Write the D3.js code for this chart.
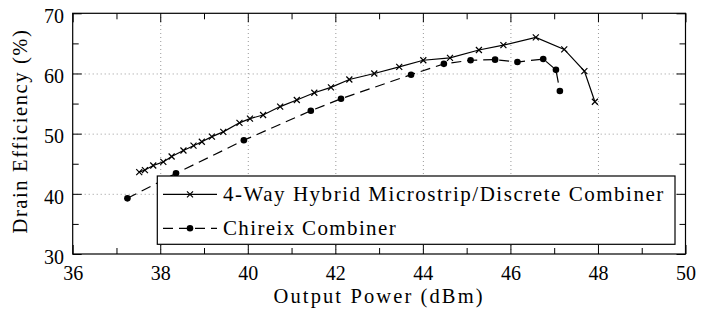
<!DOCTYPE html>
<html>
<head>
<meta charset="utf-8">
<script src="https://cdn.jsdelivr.net/npm/d3@7"></script>
<style>
  body { margin: 0; background: #fff; }
  svg { display: block; }
  text { font-family: "Liberation Serif", "Liberation Sans", serif; fill: #000; }
  .grid line { stroke: #999; stroke-dasharray: 1 3; }
  .grid path { display: none; }
</style>
</head>
<body>
<svg width="710" height="312"></svg>
<script>
// Output power (dBm) and drain efficiency (%)
var hybridX = [37.52, 37.65, 37.84, 38.07, 38.26, 38.53, 38.76, 38.95, 39.18, 39.44, 39.81, 40.05,
               40.35, 40.74, 41.12, 41.52, 41.9, 42.32, 42.89, 43.46, 44.01, 44.62, 45.28, 45.84,
               46.58, 47.23, 47.69, 47.93];
var hybridY = [43.6, 43.95, 44.7, 45.3, 46.2, 47.2, 48.0, 48.65, 49.5, 50.3, 51.8, 52.5,
               53.1, 54.5, 55.6, 56.8, 57.7, 59.0, 60.0, 61.1, 62.2, 62.6, 63.9, 64.7,
               66.0, 64.0, 60.4, 55.3];
var chireixX = [37.25, 38.36, 39.91, 41.44, 42.13, 43.73, 44.48, 45.09, 45.65, 46.16, 46.75, 47.04, 47.13];
var chireixY = [39.25, 43.4, 48.9, 53.8, 55.8, 59.8, 61.6, 62.2, 62.3, 61.9, 62.4, 60.6, 57.1];

var xMajor = [36, 38, 40, 42, 44, 46, 48, 50];
var xMinor = [37, 39, 41, 43, 45, 47, 49];
var yMajor = [30, 40, 50, 60, 70];
var yMinor = [35, 45, 55, 65];

var legendNames = ["4-Way Hybrid Microstrip/Discrete Combiner", "Chireix Combiner"];

window.onload = main;

// spread the letters a little so the text spans about the same width as in the figure
function fitWidth(sel, width) {
    var n = sel.node();
    var w = n.getComputedTextLength();
    var chars = sel.text().length;
    sel.attr("letter-spacing", ((width - w) / chars).toFixed(2));
}

function main() {
    var svg = d3.select("svg");
    var left = 72.7, right = 685.5, top = 13.3, bottom = 254;

    var x = d3.scaleLinear().domain([36, 50]).range([left, right]);
    var y = d3.scaleLinear().domain([30, 70]).range([bottom, top]);

    // grid
    svg.append("g").attr("class", "grid")
        .attr("transform", "translate(0," + bottom + ")")
        .call(d3.axisBottom(x).tickValues(xMajor.slice(1, -1)).tickSize(-(bottom - top)).tickFormat(""));
    svg.append("g").attr("class", "grid")
        .attr("transform", "translate(" + left + ",0)")
        .call(d3.axisLeft(y).tickValues(yMajor.slice(1, -1)).tickSize(-(right - left)).tickFormat(""));

    // ticks pointing inward on all four sides
    function ticks(g) {
        g.selectAll("path").remove();
        g.attr("font-family", null);
        g.selectAll("line").attr("stroke", "#000").attr("stroke-width", 1);
    }
    var xa = svg.append("g").attr("transform", "translate(0," + bottom + ")")
        .call(d3.axisBottom(x).tickValues(xMajor).tickSize(-9).tickFormat(d3.format("d")))
        .call(ticks);
    xa.selectAll("text").attr("font-size", 20).attr("y", 26).attr("dy", null);
    svg.append("g").attr("transform", "translate(0," + bottom + ")")
        .call(d3.axisBottom(x).tickValues(xMinor).tickSize(-6).tickFormat("")).call(ticks);
    svg.append("g").attr("transform", "translate(0," + top + ")")
        .call(d3.axisTop(x).tickValues(xMajor).tickSize(-9).tickFormat("")).call(ticks);
    svg.append("g").attr("transform", "translate(0," + top + ")")
        .call(d3.axisTop(x).tickValues(xMinor).tickSize(-6).tickFormat("")).call(ticks);

    var ya = svg.append("g").attr("transform", "translate(" + left + ",0)")
        .call(d3.axisLeft(y).tickValues(yMajor).tickSize(-9).tickFormat(d3.format("d")))
        .call(ticks);
    ya.selectAll("text").attr("font-size", 20).attr("x", -8.7).attr("dy", null).attr("y", 9.2);
    svg.append("g").attr("transform", "translate(" + left + ",0)")
        .call(d3.axisLeft(y).tickValues(yMinor).tickSize(-6).tickFormat("")).call(ticks);
    svg.append("g").attr("transform", "translate(" + right + ",0)")
        .call(d3.axisRight(y).tickValues(yMajor).tickSize(-9).tickFormat("")).call(ticks);
    svg.append("g").attr("transform", "translate(" + right + ",0)")
        .call(d3.axisRight(y).tickValues(yMinor).tickSize(-6).tickFormat("")).call(ticks);

    // frame
    svg.append("rect")
        .attr("x", left).attr("y", top)
        .attr("width", right - left).attr("height", bottom - top)
        .attr("fill", "none").attr("stroke", "#000").attr("stroke-width", 1.2);

    var line = d3.line().x(d => x(d[0])).y(d => y(d[1]));
    var hybrid = d3.zip(hybridX, hybridY);
    var chireix = d3.zip(chireixX, chireixY);

    svg.append("path").datum(hybrid).attr("d", line)
        .attr("fill", "none").attr("stroke", "#000").attr("stroke-width", 1.2);
    svg.append("path").datum(chireix).attr("d", line)
        .attr("fill", "none").attr("stroke", "#000").attr("stroke-width", 1.2)
        .attr("stroke-dasharray", "10 6");

    function cross(g, cx, cy) {
        g.append("path")
            .attr("d", "M" + (cx - 3) + "," + (cy - 3) + "L" + (cx + 3) + "," + (cy + 3) +
                       "M" + (cx - 3) + "," + (cy + 3) + "L" + (cx + 3) + "," + (cy - 3))
            .attr("stroke", "#000").attr("stroke-width", 1.2);
    }
    var marks = svg.append("g");
    hybrid.forEach(d => cross(marks, x(d[0]), y(d[1])));
    marks.selectAll("circle").data(chireix).enter().append("circle")
        .attr("cx", d => x(d[0])).attr("cy", d => y(d[1])).attr("r", 3.3).attr("fill", "#000");

    // legend
    var lg = svg.append("g");
    lg.append("rect").attr("x", 157.3).attr("y", 176).attr("width", 517.7).attr("height", 68.3)
        .attr("fill", "#fff").attr("stroke", "#000").attr("stroke-width", 1.2);
    var rows = [194.3, 228.3];
    lg.append("line").attr("x1", 163).attr("x2", 217).attr("y1", rows[0]).attr("y2", rows[0])
        .attr("stroke", "#000").attr("stroke-width", 1.2);
    cross(lg, 190, rows[0]);
    lg.append("line").attr("x1", 163).attr("x2", 217).attr("y1", rows[1]).attr("y2", rows[1])
        .attr("stroke", "#000").attr("stroke-width", 1.2).attr("stroke-dasharray", "10 6");
    lg.append("circle").attr("cx", 190).attr("cy", rows[1]).attr("r", 3.3).attr("fill", "#000");
    var lt = lg.selectAll("text").data(legendNames).enter().append("text")
        .attr("x", 223).attr("y", (d, i) => rows[i] + 6.8)
        .attr("font-size", 21).text(d => d);
    fitWidth(lt.filter((d, i) => i === 0), 442);
    fitWidth(lt.filter((d, i) => i === 1), 174);

    // axis titles
    var xt = svg.append("text").attr("x", (left + right) / 2).attr("y", 303)
        .attr("text-anchor", "middle").attr("font-size", 20.5).text("Output Power (dBm)");
    fitWidth(xt, 211);
    var yt = svg.append("text").attr("transform", "translate(27,131) rotate(-90)")
        .attr("text-anchor", "middle").attr("font-size", 20.5).text("Drain Efficiency (%)");
    fitWidth(yt, 205);
}
</script>
</body>
</html>
